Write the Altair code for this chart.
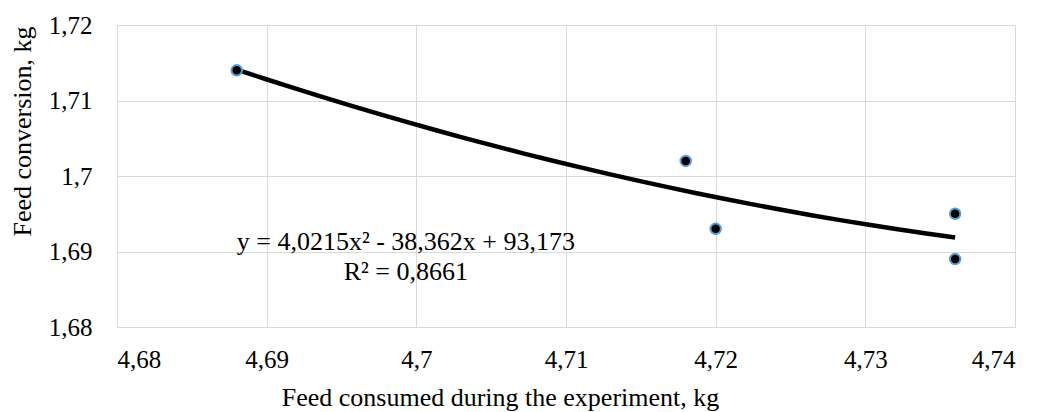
import altair as alt
import pandas as pd

# Data
feed_consumed = [4.688, 4.718, 4.720, 4.736, 4.736]
feed_conversion = [1.714, 1.702, 1.693, 1.695, 1.689]

x_ticks = [4.68, 4.69, 4.70, 4.71, 4.72, 4.73, 4.74]
y_ticks = [1.68, 1.69, 1.70, 1.71, 1.72]

ann_text = ["y = 4,0215x² - 38,362x + 93,173", "R² = 0,8661"]
ann_x = [4.6993, 4.6993]
ann_y = [1.6902, 1.6862]

FONT = "'Liberation Serif', 'Times New Roman', 'DejaVu Serif', serif"

df = pd.DataFrame({"x": feed_consumed, "y": feed_conversion})
ann = pd.DataFrame({"t": ann_text, "x": ann_x, "y": ann_y})

label_expr = "replace(format(datum.value, '.2~f'), '.', ',')"

x_scale = alt.Scale(domain=[4.68, 4.74], nice=False, zero=False)
y_scale = alt.Scale(domain=[1.68, 1.72], nice=False, zero=False)

x_enc = alt.X(
    "x:Q",
    scale=x_scale,
    axis=alt.Axis(
        values=x_ticks,
        labelExpr=label_expr,
        title="Feed consumed during the experiment, kg",
        ticks=False,
        tickSize=0,
        labelPadding=20,
        titleBaseline="alphabetic",
        titleY=78,
        titleX=383,
        titleAnchor="middle",
        titleAlign="center",
    ),
)
y_enc = alt.Y(
    "y:Q",
    scale=y_scale,
    axis=alt.Axis(
        values=y_ticks,
        labelExpr=label_expr,
        title="Feed conversion, kg",
        ticks=False,
        tickSize=0,
        labelPadding=25,
        labelBaseline="middle",
        titleAngle=-90,
        titleBaseline="middle",
        titleAlign="center",
        titleX=-95,
        titleY=106,
    ),
)

trend = (
    alt.Chart(df)
    .transform_regression("x", "y", method="poly", order=2, extent=[4.688, 4.736])
    .mark_line(color="black", strokeWidth=4.5)
    .encode(x=x_enc, y=y_enc)
)

points = (
    alt.Chart(df)
    .mark_point(filled=True, fill="black", stroke="#5b9bd5", strokeWidth=2, size=110, opacity=1)
    .encode(x=x_enc, y=y_enc)
)

labels = (
    alt.Chart(ann)
    .mark_text(font=FONT, fontSize=26, color="black", align="center", baseline="alphabetic")
    .encode(x=alt.X("x:Q", scale=x_scale), y=alt.Y("y:Q", scale=y_scale), text="t:N")
)

chart = (
    alt.layer(trend, points, labels)
    .properties(
        width=898,
        height=302,
        autosize=alt.AutoSizeParams(type="none"),
        padding={"left": 109, "top": 17, "right": 16, "bottom": 84},
        background="white",
    )
    .configure_view(stroke=None)
    .configure_axis(
        labelFont=FONT,
        titleFont=FONT,
        labelFontSize=25,
        titleFontSize=26,
        labelColor="#000000",
        titleColor="#000000",
        titleFontWeight="normal",
        gridColor="#d9d9d9",
        gridWidth=1,
        domainColor="#d9d9d9",
        domainWidth=1,
    )
)

chart.save("out.html", embed_options={"renderer": "svg", "actions": False})
